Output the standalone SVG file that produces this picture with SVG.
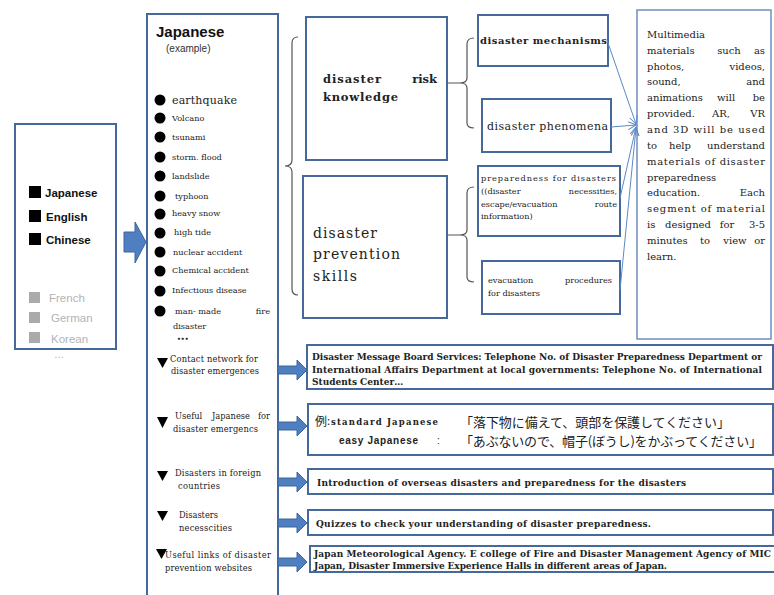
<svg xmlns="http://www.w3.org/2000/svg" width="774" height="595" viewBox="0 0 774 595">
<style>
.box{fill:#fff;stroke:#45699b;stroke-width:2}
.tbox{fill:#fff;stroke:#6f8fbf;stroke-width:1.5}
.blk{fill:#4f7fc0;stroke:#3c679c;stroke-width:1}
.brace{fill:none;stroke:#555;stroke-width:1.2}
.con{fill:none;stroke:#5b8ac6;stroke-width:1}
.sans{font-family:"Liberation Sans",Arial,sans-serif}
.ser{font-family:"DejaVu Serif","Liberation Serif",serif;fill:#222}
.b{font-weight:bold}
.it{font-size:8.2px}
.tri{font-size:8.3px}
.par{font-size:10px}
.bot{font-size:9px;font-weight:bold}
.jp{font-family:"Noto Sans CJK JP","Noto Sans",sans-serif;fill:#222}
</style>
<defs>
<marker id="ah" markerWidth="9" markerHeight="9" refX="8" refY="4.5" orient="auto" markerUnits="userSpaceOnUse">
<path d="M0,0.5 L8,4.5 L0,8.5" fill="none" stroke="#5b8ac6" stroke-width="1"/>
</marker>
</defs>
<rect width="774" height="595" fill="#fff"/>

<g id="languages">
<rect class="box" x="15" y="124" width="101" height="225"/>
<rect x="29" y="186" width="12" height="12" fill="#000"/>
<text class="sans b" x="45" y="197" font-size="11.5" fill="#111">Japanese</text>
<rect x="29" y="210" width="12" height="12" fill="#000"/>
<text class="sans b" x="46" y="221" font-size="11.5" fill="#111">English</text>
<rect x="29" y="233" width="12" height="12" fill="#000"/>
<text class="sans b" x="46" y="244" font-size="11.5" fill="#111">Chinese</text>
<rect x="29" y="292" width="11" height="11" fill="#aaa"/>
<text class="sans" x="49" y="302" font-size="11.5" fill="#b3b3b3">French</text>
<rect x="29" y="312" width="11" height="11" fill="#aaa"/>
<text class="sans" x="51" y="322" font-size="11.5" fill="#b3b3b3">German</text>
<rect x="29" y="332" width="11" height="11" fill="#aaa"/>
<text class="sans" x="51" y="343" font-size="11.5" fill="#b3b3b3">Korean</text>
<text class="sans" x="54" y="358" font-size="10" fill="#aaa">…</text>
</g>

<g id="japanese-column">
<rect class="box" x="147" y="14" width="131" height="590"/>
<text class="sans b" x="156" y="37" font-size="15" fill="#111">Japanese</text>
<text class="sans" x="166" y="52" font-size="10" fill="#333">(example)</text>
<g fill="#000">
<circle cx="160" cy="100" r="5.5"/><circle cx="160" cy="118" r="5.5"/><circle cx="160" cy="137" r="5.5"/>
<circle cx="160" cy="157" r="5.5"/><circle cx="160" cy="176" r="5.5"/><circle cx="160" cy="196" r="5.5"/>
<circle cx="160" cy="214" r="5.5"/><circle cx="160" cy="233" r="5.5"/><circle cx="160" cy="252" r="5.5"/>
<circle cx="160" cy="271" r="5.5"/><circle cx="160" cy="291" r="5.5"/><circle cx="160" cy="311" r="5.5"/>
</g>
<text class="ser" x="172" y="104" font-size="11" textLength="65">earthquake</text>
<text class="ser it" x="172" y="121">Volcano</text>
<text class="ser it" x="172" y="140">tsunami</text>
<text class="ser it" x="172" y="160">storm. flood</text>
<text class="ser it" x="172" y="179">landslide</text>
<text class="ser it" x="175" y="199">typhoon</text>
<text class="ser it" x="172" y="216">heavy snow</text>
<text class="ser it" x="174" y="235">high tide</text>
<text class="ser it" x="173" y="255">nuclear accident</text>
<text class="ser it" x="172" y="273">Chemical accident</text>
<text class="ser it" x="172" y="293">Infectious disease</text>
<text class="ser it" x="175" y="314">man- made</text>
<text class="ser it" x="270" y="314" text-anchor="end">fire</text>
<text class="ser it" x="173" y="329">disaster</text>
<text class="ser" x="177" y="341" font-size="6" font-weight="bold">•••</text>
<g fill="#000">
<polygon points="157,358 168,358 162.5,368"/>
<polygon points="157,417 168,417 162.5,428"/>
<polygon points="157,471 168,471 162.5,481"/>
<polygon points="157,511 168,511 162.5,521"/>
<polygon points="156,549 167,549 161.5,559"/>
</g>
<text class="ser tri" x="170" y="362" textLength="88">Contact network for</text>
<text class="ser tri" x="171" y="374" textLength="88">disaster emergences</text>
<text class="ser tri" x="175" y="419">Useful</text>
<text class="ser tri" x="231" y="419" text-anchor="middle">Japanese</text>
<text class="ser tri" x="270" y="419" text-anchor="end">for</text>
<text class="ser tri" x="173" y="432" textLength="85">disaster emergencs</text>
<text class="ser tri" x="175" y="476" textLength="86">Disasters in foreign</text>
<text class="ser tri" x="178" y="489" textLength="42">countries</text>
<text class="ser tri" x="179" y="518" textLength="39">Disasters</text>
<text class="ser tri" x="179" y="531" textLength="53">necesscities</text>
<text class="ser tri" x="165" y="558" textLength="106">Useful  links of disaster</text>
<text class="ser tri" x="165" y="571" textLength="87">prevention websites</text>
</g>

<g id="risk-knowledge">
<rect class="box" x="306" y="17" width="141" height="143"/>
<text class="ser b" x="323" y="83" font-size="11.5" textLength="58">disaster</text>
<text class="ser b" x="437" y="83" font-size="11.5" text-anchor="end">risk</text>
<text class="ser b" x="323" y="101" font-size="11.5" textLength="75">knowledge</text>
</g>

<g id="prevention-skills">
<rect class="box" x="303" y="176" width="144" height="142"/>
<text class="ser" x="313" y="238" font-size="14" textLength="64">disaster</text>
<text class="ser" x="313" y="259" font-size="14" textLength="87">prevention</text>
<text class="ser" x="313" y="281" font-size="14" textLength="44">skills</text>
</g>

<g id="mechanisms">
<rect class="box" x="478" y="15" width="130" height="51"/>
<text class="ser b" x="480" y="44" font-size="10" textLength="127">disaster mechanisms</text>
</g>

<g id="phenomena">
<rect class="box" x="482" y="99" width="129" height="53"/>
<text class="ser" x="487" y="130" font-size="11" textLength="121">disaster phenomena</text>
</g>

<g id="preparedness">
<rect class="box" x="478" y="166" width="142" height="70"/>
<text class="ser it" x="481" y="181" textLength="135">preparedness for disasters</text>
<text class="ser it" x="481" y="194">((disaster</text>
<text class="ser it" x="617" y="194" text-anchor="end">necessities,</text>
<text class="ser it" x="481" y="207">escape/evacuation</text>
<text class="ser it" x="617" y="207" text-anchor="end">route</text>
<text class="ser it" x="481" y="219">information)</text>
</g>

<g id="evacuation">
<rect class="box" x="482" y="261" width="138" height="53"/>
<text class="ser it" x="488" y="283">evacuation</text>
<text class="ser it" x="612" y="283" text-anchor="end">procedures</text>
<text class="ser it" x="488" y="296">for disasters</text>
</g>

<g id="multimedia">
<rect class="tbox" x="637" y="10" width="134" height="329"/>
<g class="ser par">
<text x="647" y="38">Multimedia</text>
<text x="647" y="54">materials</text><text x="729" y="54" text-anchor="middle">such</text><text x="765" y="54" text-anchor="end">as</text>
<text x="647" y="70">photos,</text><text x="765" y="70" text-anchor="end">videos,</text>
<text x="647" y="85">sound,</text><text x="765" y="85" text-anchor="end">and</text>
<text x="647" y="101">animations</text><text x="726" y="101" text-anchor="middle">will</text><text x="765" y="101" text-anchor="end">be</text>
<text x="647" y="117">provided.</text><text x="721" y="117" text-anchor="middle">AR,</text><text x="765" y="117" text-anchor="end">VR</text>
<text x="647" y="133" textLength="118">and 3D will be used</text>
<text x="647" y="149">to</text><text x="680" y="149" text-anchor="middle">help</text><text x="765" y="149" text-anchor="end">understand</text>
<text x="647" y="165" textLength="118">materials of disaster</text>
<text x="647" y="181">preparedness</text>
<text x="647" y="196">education.</text><text x="765" y="196" text-anchor="end">Each</text>
<text x="647" y="212" textLength="118">segment of material</text>
<text x="647" y="228">is</text><text x="688" y="228" text-anchor="middle">designed</text><text x="727" y="228" text-anchor="middle">for</text><text x="765" y="228" text-anchor="end">3-5</text>
<text x="647" y="244">minutes</text><text x="705" y="244" text-anchor="middle">to</text><text x="735" y="244" text-anchor="middle">view</text><text x="765" y="244" text-anchor="end">or</text>
<text x="647" y="260">learn.</text>
</g>
</g>

<g id="contact-box">
<rect class="box" x="307" y="345" width="466" height="44"/>
<text class="ser bot" x="312" y="360" textLength="450">Disaster Message Board Services: Telephone No. of Disaster Preparedness Department or</text>
<text class="ser bot" x="312" y="373" textLength="450">International Affairs Department at local governments: Telephone No. of International</text>
<text class="ser bot" x="312" y="385">Students Center…</text>
</g>

<g id="japanese-box">
<rect class="box" x="308" y="404" width="465" height="51"/>
<text class="jp" x="315" y="426" font-size="12">例</text>
<text class="jp" x="327" y="425" font-size="11">:</text>
<text class="ser b" x="331" y="425" font-size="8.5" textLength="107">standard Japanese</text>
<text class="sans b" x="339" y="444" font-size="10" fill="#222" textLength="79">easy Japanese</text>
<text class="sans" x="437" y="444" font-size="10" fill="#222">:</text>
<text class="jp" x="460" y="427" font-size="13" textLength="270">「落下物に備えて、頭部を保護してください」</text>
<text class="jp" x="460" y="446" font-size="13" textLength="302">「あぶないので、帽子(ぼうし)をかぶってください」</text>
</g>

<g id="overseas-box">
<rect class="box" x="308" y="469" width="465" height="25"/>
<text class="ser bot" x="317" y="486" font-size="9.2" textLength="369">Introduction of overseas disasters and preparedness for the disasters</text>
</g>

<g id="quiz-box">
<rect class="box" x="308" y="510" width="465" height="25"/>
<text class="ser bot" x="316" y="527" font-size="9.2" textLength="335">Quizzes to check your understanding of disaster preparedness.</text>
</g>

<g id="links-box">
<rect class="box" x="310" y="546" width="475" height="26"/>
<text class="ser bot" x="314" y="557" textLength="457">Japan Meteorological Agency.  E college of  Fire and Disaster Management Agency of MIC</text>
<text class="ser bot" x="314" y="569" textLength="353">Japan, Disaster Immersive Experience Halls in different areas of Japan.</text>
</g>

<g id="connectors">
<polygon class="blk" points="124,232 135,232 135,222 146,242 135,263 135,252 124,252"/>
<polygon class="blk" points="278,366 297,366 297,360 307,370 297,380 297,374 278,374"/>
<polygon class="blk" points="278,422 297,422 297,416 307,426 297,436 297,430 278,430"/>
<polygon class="blk" points="278,478 297,478 297,472 307,482 297,492 297,486 278,486"/>
<polygon class="blk" points="278,519 297,519 297,513 307,523 297,533 297,527 278,527"/>
<polygon class="blk" points="278,558 297,558 297,552 307,562 297,572 297,566 278,566"/>
<path class="brace" d="M298,37 Q292,37 292,43 L292,160 Q292,166 285,166 Q292,166 292,172 L292,289 Q292,295 298,295"/>
<path class="brace" d="M447,83 L460,83 M474,38 Q467,38 467,44 L467,78 Q467,83 460,83 Q467,83 467,88 L467,123 Q467,128 474,128"/>
<path class="brace" d="M447,235 L460,235 M474,187 Q467,187 467,193 L467,230 Q467,235 460,235 Q467,235 467,240 L467,277 Q467,282 474,282"/>
<line class="con" x1="607" y1="40" x2="636" y2="124" marker-end="url(#ah)"/>
<line class="con" x1="611" y1="127" x2="636" y2="125" marker-end="url(#ah)"/>
<line class="con" x1="620" y1="198" x2="636" y2="127" marker-end="url(#ah)"/>
<line class="con" x1="620" y1="290" x2="636" y2="128" marker-end="url(#ah)"/>
</g>
</svg>
